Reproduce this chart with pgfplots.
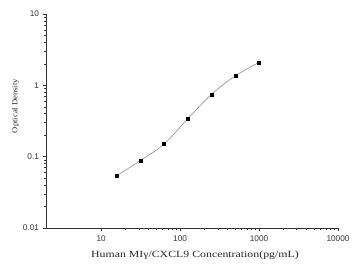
\documentclass[border=0pt]{standalone}
\usepackage{pgfplots}
\pgfplotsset{compat=1.18}
\usepackage{fontspec}
\setmainfont{Liberation Serif}
\newfontfamily\tickfont{Liberation Sans}
\begin{document}
\begin{tikzpicture}
\useasboundingbox (0,0) rectangle (352bp,264bp);
\begin{axis}[
  at={(46bp,36bp)}, anchor=south west,
  scale only axis, width=292bp, height=214bp,
  xmode=log, ymode=log,
  xmin=2, xmax=10000, ymin=0.01, ymax=10,
  axis x line=bottom, axis y line=left,
  axis line style={-, line width=0.6pt, black!80},
  tick align=outside,
  major tick length=3.5bp, minor tick length=2bp,
  tick style={black!80, line width=0.5pt},
  xtick={10,100,1000,10000}, ytick={0.01,0.1,1,10},
  log ticks with fixed point,
  /pgf/number format/1000 sep={},
  /pgf/number format/assume math mode=true,
  ticklabel style={font=\tickfont\fontsize{8.3}{9}\selectfont, text=black!80},
  xticklabel style={yshift=-1bp},
  xlabel={\scalebox{1.25}[1]{Human MI\symbol{"03B3}/CXCL9 Concentration(pg/mL)}},
  ylabel={\scalebox{1}[0.9]{Optical Density}},
  xlabel style={font=\fontsize{9.5}{11}\selectfont, at={(axis description cs:0.51,-0.125)}, anchor=center, text=black!85},
  ylabel style={font=\fontsize{8.6}{10}\selectfont, at={(axis description cs:-0.104,0.570)}, anchor=center, rotate=0, text=black!85},
]
\addplot[gray!90, line width=0.6pt, smooth, tension=0.6, no marks] coordinates {
(15.625,0.054) (31.25,0.0878) (62.5,0.1505) (125,0.340) (250,0.748) (500,1.352) (1000,2.10)
};
\addplot[only marks, mark=square*, mark size=1.5bp, black] coordinates {
(15.625,0.054) (31.25,0.0878) (62.5,0.1505) (125,0.340) (250,0.748) (500,1.352) (1000,2.10)
};
\end{axis}
\end{tikzpicture}
\end{document}
